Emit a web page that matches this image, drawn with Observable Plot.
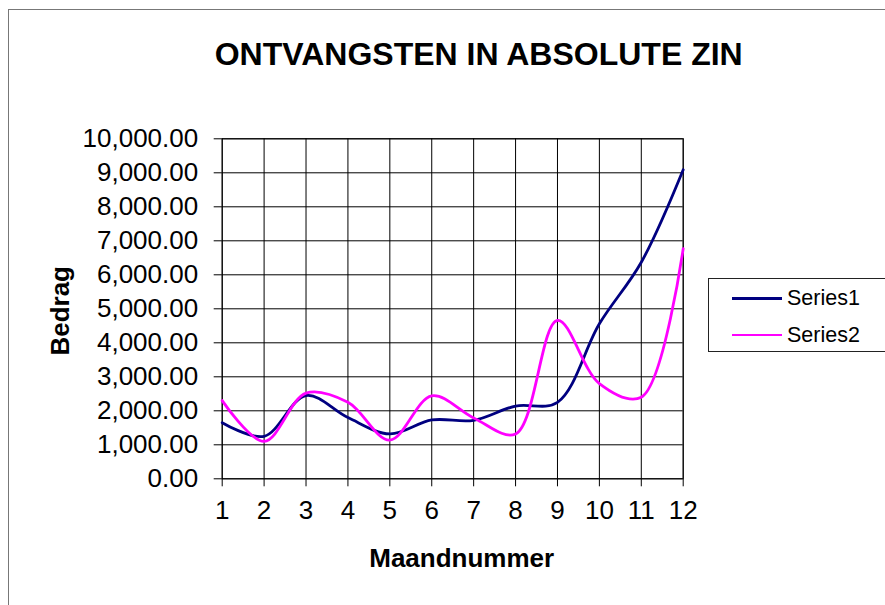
<!DOCTYPE html>
<html>
<head>
<meta charset="utf-8">
<script src="https://cdn.jsdelivr.net/npm/d3@7"></script>
<script src="https://cdn.jsdelivr.net/npm/@observablehq/plot@0.6"></script>
<style>
  html, body { margin: 0; padding: 0; background: #fff; overflow: hidden; width: 885px; height: 605px; }
  #wrap { position: relative; width: 885px; height: 605px; font-family: "Liberation Sans", Arial, sans-serif; }
  #border { position: absolute; left: 8px; top: 9px; width: 1000px; height: 1000px; border-left: 1px solid #777; border-top: 1px solid #777; }
  #chart { position: absolute; left: 0; top: 0; }
  #legend { position: absolute; left: 708px; top: 278px; width: 200px; height: 72px; border: 1px solid #222; background: #fff; }
  .item { position: absolute; left: 0; height: 24px; font-size: 21.5px; color: #000; line-height: 24px; }
  .sw { position: absolute; left: 23px; top: 11px; width: 50px; height: 2.5px; }
  .lbl { position: absolute; left: 78px; top: 0; white-space: nowrap; }
</style>
</head>
<body>
<div id="wrap">
  <div id="border"></div>
  <div id="chart"></div>
  <div id="legend"></div>
</div>
<script>
const months = [1, 2, 3, 4, 5, 6, 7, 8, 9, 10, 11, 12];
const series1 = [1650, 1250, 2450, 1800, 1320, 1730, 1720, 2140, 2250, 4560, 6370, 9090];
const series2 = [2300, 1100, 2520, 2250, 1140, 2440, 1790, 1320, 4660, 2800, 2400, 6770];
const seriesNames = ["Series1", "Series2"];
const seriesColors = ["#000080", "#FF00FF"];
const yTicks = [0, 1000, 2000, 3000, 4000, 5000, 6000, 7000, 8000, 9000, 10000];
const titleText = "ONTVANGSTEN IN ABSOLUTE ZIN";
const xLabel = "Maandnummer";
const yLabel = "Bedrag";

const rows = [];
[series1, series2].forEach((s, i) => s.forEach((v, j) => rows.push({month: months[j], value: v, series: seriesNames[i]})));

const font = "'Liberation Sans', Arial, sans-serif";
const chart = Plot.plot({
  width: 885,
  height: 605,
  marginLeft: 221.7,
  marginRight: 202.3,
  marginTop: 138.3,
  marginBottom: 126.7,
  style: { fontFamily: font, fontSize: "26px", background: "transparent", color: "#000", overflow: "visible" },
  x: { domain: [1, 12] },
  y: { domain: [0, 10000] },
  color: { domain: seriesNames, range: seriesColors },
  marks: [
    Plot.gridY(yTicks, { stroke: "#000", strokeOpacity: 1, strokeWidth: 1 }),
    Plot.gridX(months, { stroke: "#000", strokeOpacity: 1, strokeWidth: 1 }),
    Plot.frame({ stroke: "#000", strokeWidth: 1 }),
    Plot.axisY(yTicks, { tickSize: 8, tickPadding: 16, tickFormat: d3.format(",.2f"), label: null, fontSize: 26, stroke: "#000" }),
    Plot.axisX(months, { tickSize: 8, tickPadding: 14, tickFormat: d => String(d), label: null, fontSize: 26, stroke: "#000" }),
    Plot.line(rows, { x: "month", y: "value", z: "series", stroke: "series", strokeWidth: 2.8, curve: "catmull-rom" }),
    Plot.text([titleText], { frameAnchor: "top", text: d => d, dx: 26, dy: -84, lineAnchor: "middle", fontSize: 32, fontWeight: "bold" }),
    Plot.text([xLabel], { frameAnchor: "bottom", text: d => d, dx: 9, dy: 80, lineAnchor: "middle", fontSize: 26, fontWeight: "bold" }),
    Plot.text([yLabel], { frameAnchor: "left", text: d => d, dx: -162, dy: 2, rotate: -90, lineAnchor: "middle", textAnchor: "middle", fontSize: 26, fontWeight: "bold" })
  ]
});
document.getElementById("chart").appendChild(chart);

const legend = document.getElementById("legend");
seriesNames.forEach((name, i) => {
  const item = document.createElement("div");
  item.className = "item";
  item.style.top = (7 + i * 36.5) + "px";
  item.style.width = "100%";
  const sw = document.createElement("div");
  sw.className = "sw";
  sw.style.background = seriesColors[i];
  const lbl = document.createElement("span");
  lbl.className = "lbl";
  lbl.textContent = name;
  item.appendChild(sw);
  item.appendChild(lbl);
  legend.appendChild(item);
});
</script>
</body>
</html>
